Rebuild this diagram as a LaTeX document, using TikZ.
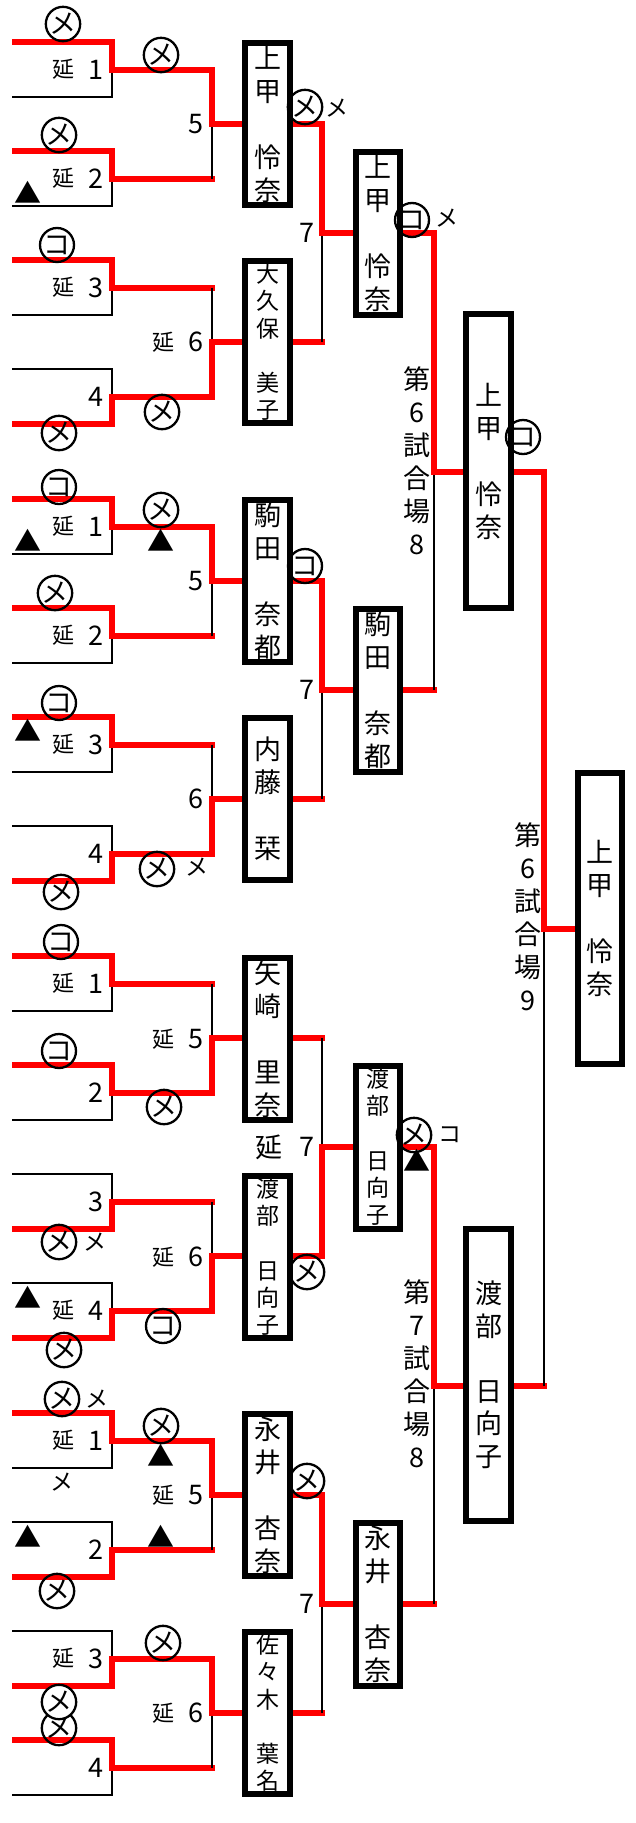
\documentclass[tikz,border=0pt]{standalone}
\usepackage{fontspec}
\setmainfont{Noto Sans CJK JP}
\usetikzlibrary{positioning}
\tikzset{
  win/.style={red, line width=6, line cap=rect},
  lose/.style={black, line width=2.6},
  pbox/.style={draw, line width=6, fill=white, inner sep=0, outer sep=0, minimum width=45, align=center, font=\fontsize{27}{33}\selectfont},
  pboxs/.style={pbox, font=\fontsize{23}{27.2}\selectfont},
  vlab/.style={inner sep=0, align=center, font=\fontsize{27}{33}\selectfont},
  num/.style={inner sep=0, anchor=east, font=\fontsize{27}{27}\selectfont},
  en/.style={inner sep=0, font=\fontsize{22}{22}\selectfont},
  maru/.style={circle, draw, line width=2.3, minimum size=34, inner sep=0, font=\fontsize{27}{27}\selectfont},
  kana/.style={inner sep=0, font=\fontsize{23}{23}\selectfont},
  sank/.style={inner sep=0, font=\fontsize{27}{27}\selectfont}
}
\begin{document}
\begin{tikzpicture}[x=1pt, y=-1pt]
  \useasboundingbox (0,0) rectangle (636,1823);
  % four blocks: first round, second round, block final
  \foreach \blk/\wa/\wb/\wc/\wd/\we/\wf/\wg in {0/0/0/0/1/0/1/0, 1/0/0/0/1/0/1/0, 2/0/0/1/1/1/1/1, 3/0/1/1/0/0/0/0} {
    \pgfmathsetmacro{\yb}{42+457*\blk}
    \foreach \slot/\w in {0/\wa,1/\wb,2/\wc,3/\wd} {
      \pgfmathsetmacro{\ys}{\yb+\slot*109}
      \draw[lose] (12,\ys) -- (112,\ys) -- (112,\ys+55) -- (12,\ys+55);
      \ifnum\w=0
        \draw[win] (15,\ys) -- (112,\ys) -- (112,\ys+27.5) -- (212,\ys+27.5);
      \else
        \draw[win] (15,\ys+55) -- (112,\ys+55) -- (112,\ys+27.5) -- (212,\ys+27.5);
      \fi
    }
    \foreach \m/\w in {0/\we,1/\wf} {
      \pgfmathsetmacro{\ya}{\yb+\m*218+27.5}
      \pgfmathsetmacro{\yj}{\ya+54.5}
      \draw[lose] (212,\ya) -- (212,\ya+109);
      \ifnum\w=0
        \draw[win] (212,\ya) -- (212,\yj) -- (245,\yj);
      \else
        \draw[win] (212,\ya+109) -- (212,\yj) -- (245,\yj);
      \fi
      \draw[win] (290,\yj) -- (322,\yj);
    }
    \draw[lose] (322,\yb+82) -- (322,\yb+300);
    \ifnum\wg=0
      \draw[win] (322,\yb+82) -- (322,\yb+191) -- (356,\yb+191);
    \else
      \draw[win] (322,\yb+300) -- (322,\yb+191) -- (356,\yb+191);
    \fi
    \draw[win] (400,\yb+191) -- (434,\yb+191);
  }
  % semifinals and final
  \draw[lose] (434,233) -- (434,690);
  \draw[win] (434,233) -- (434,471.5) -- (466,471.5);
  \draw[win] (511,471.5) -- (544,471.5);
  \draw[lose] (434,1147) -- (434,1604);
  \draw[win] (434,1147) -- (434,1385.5) -- (466,1385.5);
  \draw[win] (511,1385.5) -- (544,1385.5);
  \draw[lose] (544,471.5) -- (544,1385.5);
  \draw[win] (544,471.5) -- (544,928.5) -- (578,928.5);

  % second round
  \node[pbox, minimum height=162] (r2a) at (267.5,124) {上\\甲\\　\\怜\\奈};
  \node[pboxs, minimum height=162] (r2b) at (267.5,342) {大\\久\\保\\　\\美\\子};
  \node[pbox, minimum height=162] (r2c) at (267.5,581) {駒\\田\\　\\奈\\都};
  \node[pbox, minimum height=162] (r2d) at (267.5,799) {内\\藤\\　\\栞};
  \node[pbox, minimum height=162] (r2e) at (267.5,1039) {矢\\崎\\　\\里\\奈};
  \node[pboxs, minimum height=162] (r2f) at (267.5,1257) {渡\\部\\　\\日\\向\\子};
  \node[pbox, minimum height=162] (r2g) at (267.5,1495) {永\\井\\　\\杏\\奈};
  \node[pboxs, minimum height=162] (r2h) at (267.5,1713) {佐\\々\\木\\　\\葉\\名};
  % third round
  \node[pbox, minimum width=44, minimum height=163] (r3a) at (378,233) {上\\甲\\　\\怜\\奈};
  \node[pbox, minimum width=44, minimum height=163] (r3b) at (378,690) {駒\\田\\　\\奈\\都};
  \node[pboxs, minimum width=44, minimum height=163] (r3c) at (378,1147) {渡\\部\\　\\日\\向\\子};
  \node[pbox, minimum width=44, minimum height=163] (r3d) at (378,1604) {永\\井\\　\\杏\\奈};
  % fourth round and final
  \node[pbox, minimum height=294] (r4a) at (488.5,461) {上\\甲\\　\\怜\\奈};
  \node[pbox, minimum height=292, font=\fontsize{27}{32.5}\selectfont] (r4b) at (488.5,1375) {渡\\部\\　\\日\\向\\子};
  \node[pbox, minimum width=44, minimum height=291] (fin) at (600,918) {上\\甲\\　\\怜\\奈};
  \node[vlab] (ct8a) at (417,460.5) {第\\6\\試\\合\\場\\8};
  \node[vlab] (ct8b) at (417,1374) {第\\7\\試\\合\\場\\8};
  \node[vlab] (ct9) at (528,916.5) {第\\6\\試\\合\\場\\9};

  % match numbers
  \foreach \blk/\ea/\eb/\ec/\ed in {0/1/1/1/0, 1/1/1/1/0, 2/1/0/0/1, 3/1/0/1/0} {
    \foreach \slot/\e in {0/\ea,1/\eb,2/\ec,3/\ed} {
      \pgfmathsetmacro{\ym}{42+457*\blk+\slot*109+27.5}
      \pgfmathtruncatemacro{\n}{\slot+1}
      \node[num] (no\blk\slot) at (104,\ym) {\n};
      \ifnum\e=1 \node[en] (en\blk\slot) at (63,\ym) {延}; \fi
    }
  }
  \foreach \y/\n/\e [count=\i] in {124/5/0, 342/6/1, 581/5/0, 799/6/0, 1039/5/1, 1257/6/1, 1495/5/1, 1713/6/1} {
    \node[num] (mn\i) at (204,\y) {\n};
    \ifnum\e=1 \node[en] (me\i) at (163,\y) {延}; \fi
  }
  \foreach \y [count=\i] in {233,690,1147,1604}
    \node[num] (sn\i) at (315,\y) {7};
  \node[en, font=\fontsize{27}{27}\selectfont] (se3) at (269,1147) {延};

  % scoring marks
  \foreach \x/\y/\c [count=\i] in {63/24/メ, 161/55/メ, 59/135/メ, 57/245/コ, 162/412/メ, 59/433/メ, 305/107/メ, 412/220/コ, 523/437/コ,
      59/487/コ, 161/510/メ, 55/593/メ, 59/703/コ, 157/869/メ, 61/892/メ, 305/566/コ,
      61/942/コ, 59/1051/コ, 164/1107/メ, 59/1242/メ, 163/1326/コ, 64/1350/メ, 307/1272/メ, 414/1135/メ,
      62/1399/メ, 161/1426/メ, 57/1591/メ, 163/1643/メ, 59/1728/メ, 307/1481/メ}
    \node[maru] (mr\i) at (\x,\y) {\c};
  \node[maru, fill=white] (mr31) at (59,1702) {メ};
  \foreach \x/\y/\c [count=\i] in {337/108/メ, 447/218/メ, 197/867/メ, 95/1242/メ, 450/1135/コ, 97/1399/メ, 62/1482/メ}
    \node[kana] (kn\i) at (\x,\y) {\c};
  \foreach \x/\y [count=\i] in {28/192, 28/540, 161/540, 28/730, 28/1297, 417/1160, 161/1455, 28/1536, 161/1536}
    \node[sank] (tr\i) at (\x,\y) {▲};
\end{tikzpicture}
\end{document}
